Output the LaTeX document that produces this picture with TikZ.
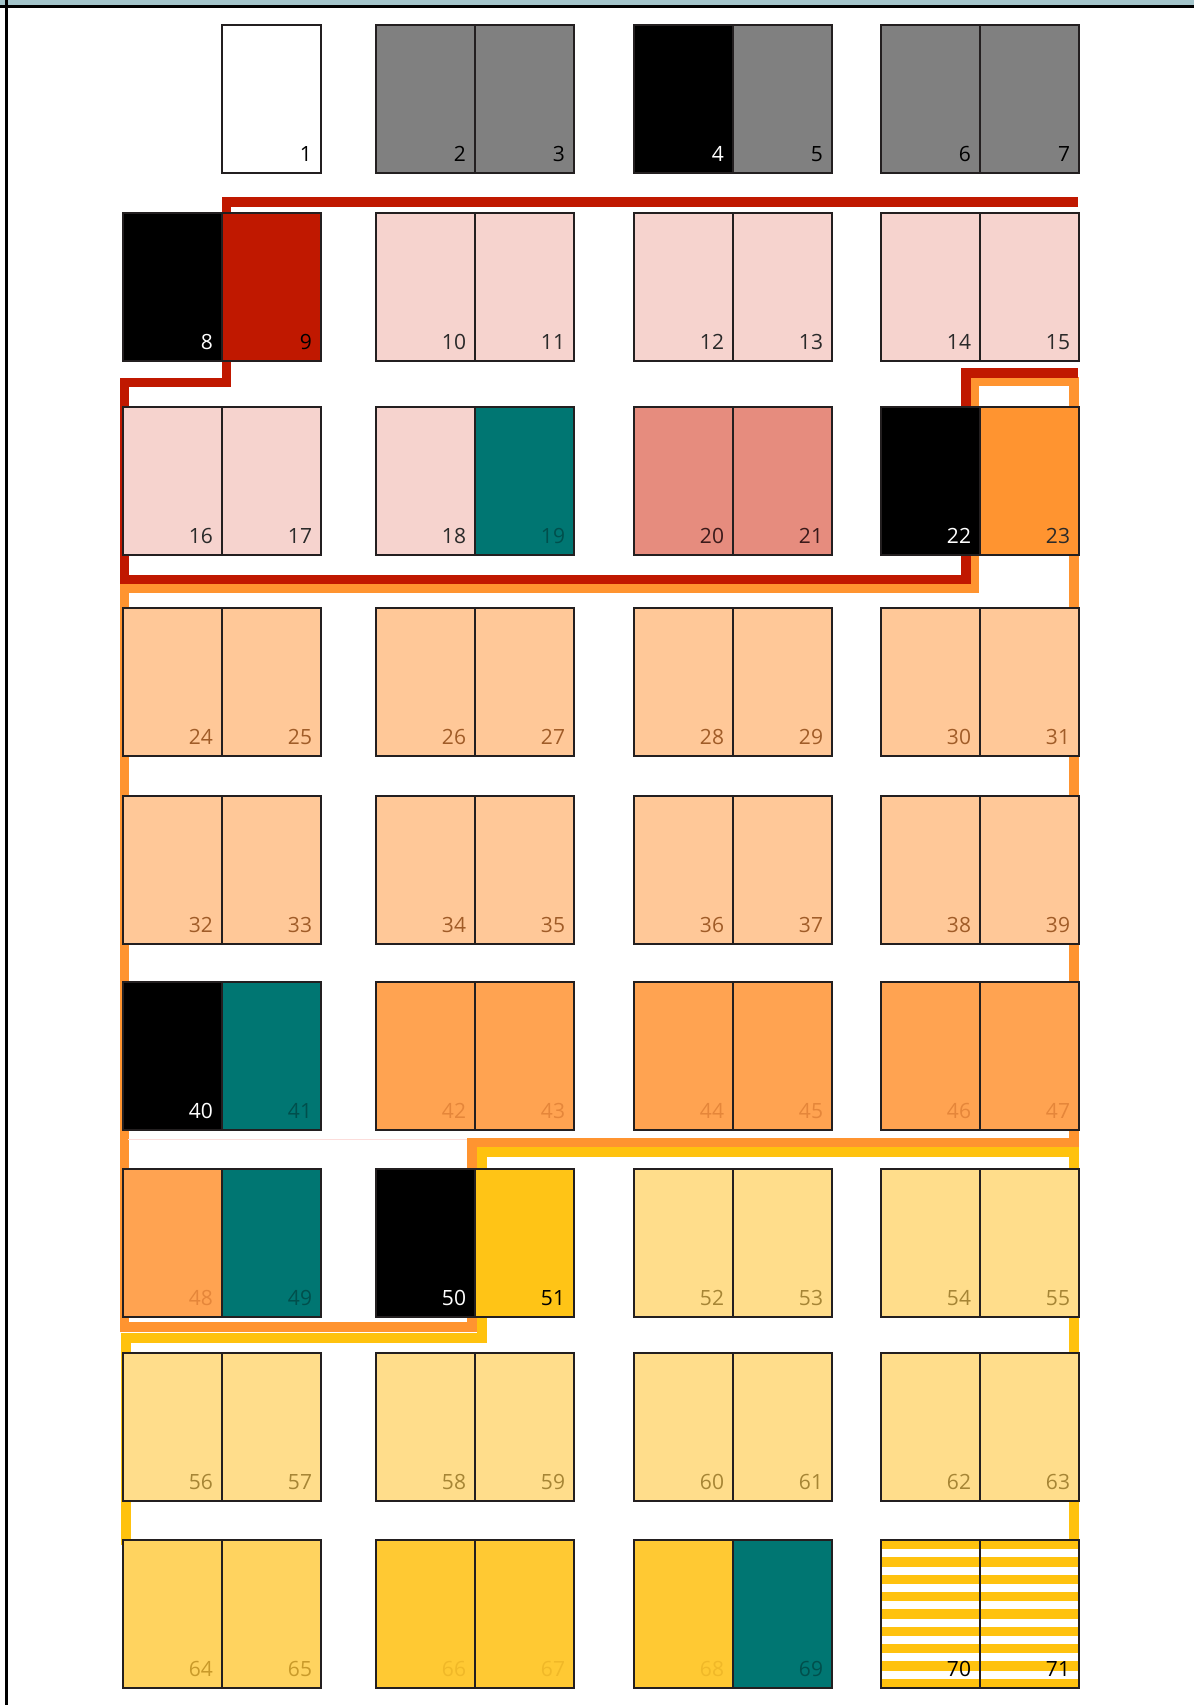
\documentclass[tikz,border=0pt]{standalone}
\usepackage{fontspec}
\setmainfont{Open Sans}
\definecolor{band}{HTML}{A3C4CA}
\definecolor{pgline}{HTML}{231F20}
\definecolor{gry}{HTML}{808080}
\definecolor{redp}{HTML}{C01800}
\definecolor{pinkp}{HTML}{F6D3CE}
\definecolor{tealp}{HTML}{007672}
\definecolor{tealtxt}{HTML}{004F4C}
\definecolor{salm}{HTML}{E68C7E}
\definecolor{salmtxt}{HTML}{3A1A1A}
\definecolor{orgA}{HTML}{FF9430}
\definecolor{peach}{HTML}{FFC898}
\definecolor{peachtxt}{HTML}{A05C28}
\definecolor{orgB}{HTML}{FFA351}
\definecolor{orgBtxt}{HTML}{E5863A}
\definecolor{yelA}{HTML}{FFC416}
\definecolor{lyel}{HTML}{FFDD8B}
\definecolor{lyeltxt}{HTML}{A68535}
\definecolor{yelB}{HTML}{FFD35F}
\definecolor{yelBtxt}{HTML}{C99A2A}
\definecolor{yelC}{HTML}{FFC933}
\definecolor{yelCtxt}{HTML}{F0B828}
\definecolor{stripeY}{HTML}{FFC20E}
\definecolor{darktxt}{HTML}{2A2A2A}
\definecolor{redline}{HTML}{C01800}
\definecolor{orline}{HTML}{FF9430}
\definecolor{yline}{HTML}{FFC20E}
\tikzset{
  pagebox/.style={draw=pgline, line width=0.8pt, minimum width=49.5pt, minimum height=74pt, inner sep=0pt, outer sep=0pt, anchor=north west},
  numlbl/.style={font=\fontsize{10.5}{12}\selectfont, inner sep=0pt, anchor=base east},
  edgeline/.style={line width=4.6pt, line join=miter, line cap=butt}
}
\newcommand\mypg[5]{%
  \node[pagebox, fill=#4] (p#1) at (#2,#3) {};
  \node[numlbl, text=#5] (l#1) at ([xshift=-4.3pt,yshift=5.6pt]p#1.south east) {#1};
}
\begin{document}
\begin{tikzpicture}[x=0.5pt,y=-0.5pt]
\useasboundingbox (0,0) rectangle (1194,1705);
\fill[white] (0,0) rectangle (1194,1705);
% frame
\fill[band] (0,0) rectangle (1194,5);
\fill[black] (0,5) rectangle (1194,7.7);
\fill[black] (5,0) rectangle (7.7,1705);
% section outlines
\draw[edgeline, orline] (1074,381.5) -- (974.5,381.5) -- (974.5,588.5) -- (124.5,588.5) -- (124.5,1327) -- (472,1327) -- (472,1142.5) -- (1074,1142.5) -- cycle;
\draw[edgeline, redline] (1078,202) -- (226.5,202) -- (226.5,382.5) -- (124.5,382.5) -- (124.5,579.5) -- (966,579.5) -- (966,373) -- (1078,373);
\draw[edgeline, yline, line width=5pt] (126,1545) -- (126,1337.5) -- (482,1337.5) -- (482,1152) -- (1074,1152) -- (1074,1545);
\draw[pinkp!80!red!40, line width=0.5pt] (128,1139) -- (467,1139);
% row 1
\mypg{1}{222}{25}{white}{black}
\mypg{2}{376}{25}{gry}{black}
\mypg{3}{475}{25}{gry}{black}
\mypg{4}{634}{25}{black}{white}
\mypg{5}{733}{25}{gry}{black}
\mypg{6}{881}{25}{gry}{black}
\mypg{7}{980}{25}{gry}{black}
% row 2
\mypg{8}{123}{213}{black}{white}
\mypg{9}{222}{213}{redp}{black}
\mypg{10}{376}{213}{pinkp}{darktxt}
\mypg{11}{475}{213}{pinkp}{darktxt}
\mypg{12}{634}{213}{pinkp}{darktxt}
\mypg{13}{733}{213}{pinkp}{darktxt}
\mypg{14}{881}{213}{pinkp}{darktxt}
\mypg{15}{980}{213}{pinkp}{darktxt}
% row 3
\mypg{16}{123}{407}{pinkp}{darktxt}
\mypg{17}{222}{407}{pinkp}{darktxt}
\mypg{18}{376}{407}{pinkp}{darktxt}
\mypg{19}{475}{407}{tealp}{tealtxt}
\mypg{20}{634}{407}{salm}{salmtxt}
\mypg{21}{733}{407}{salm}{salmtxt}
\mypg{22}{881}{407}{black}{white}
\mypg{23}{980}{407}{orgA}{darktxt}
% row 4
\mypg{24}{123}{608}{peach}{peachtxt}
\mypg{25}{222}{608}{peach}{peachtxt}
\mypg{26}{376}{608}{peach}{peachtxt}
\mypg{27}{475}{608}{peach}{peachtxt}
\mypg{28}{634}{608}{peach}{peachtxt}
\mypg{29}{733}{608}{peach}{peachtxt}
\mypg{30}{881}{608}{peach}{peachtxt}
\mypg{31}{980}{608}{peach}{peachtxt}
% row 5
\mypg{32}{123}{796}{peach}{peachtxt}
\mypg{33}{222}{796}{peach}{peachtxt}
\mypg{34}{376}{796}{peach}{peachtxt}
\mypg{35}{475}{796}{peach}{peachtxt}
\mypg{36}{634}{796}{peach}{peachtxt}
\mypg{37}{733}{796}{peach}{peachtxt}
\mypg{38}{881}{796}{peach}{peachtxt}
\mypg{39}{980}{796}{peach}{peachtxt}
% row 6
\mypg{40}{123}{982}{black}{white}
\mypg{41}{222}{982}{tealp}{tealtxt}
\mypg{42}{376}{982}{orgB}{orgBtxt}
\mypg{43}{475}{982}{orgB}{orgBtxt}
\mypg{44}{634}{982}{orgB}{orgBtxt}
\mypg{45}{733}{982}{orgB}{orgBtxt}
\mypg{46}{881}{982}{orgB}{orgBtxt}
\mypg{47}{980}{982}{orgB}{orgBtxt}
% row 7
\mypg{48}{123}{1169}{orgB}{orgBtxt}
\mypg{49}{222}{1169}{tealp}{tealtxt}
\mypg{50}{376}{1169}{black}{white}
\mypg{51}{475}{1169}{yelA}{black}
\mypg{52}{634}{1169}{lyel}{lyeltxt}
\mypg{53}{733}{1169}{lyel}{lyeltxt}
\mypg{54}{881}{1169}{lyel}{lyeltxt}
\mypg{55}{980}{1169}{lyel}{lyeltxt}
% row 8
\mypg{56}{123}{1353}{lyel}{lyeltxt}
\mypg{57}{222}{1353}{lyel}{lyeltxt}
\mypg{58}{376}{1353}{lyel}{lyeltxt}
\mypg{59}{475}{1353}{lyel}{lyeltxt}
\mypg{60}{634}{1353}{lyel}{lyeltxt}
\mypg{61}{733}{1353}{lyel}{lyeltxt}
\mypg{62}{881}{1353}{lyel}{lyeltxt}
\mypg{63}{980}{1353}{lyel}{lyeltxt}
% row 9
\mypg{64}{123}{1540}{yelB}{yelBtxt}
\mypg{65}{222}{1540}{yelB}{yelBtxt}
\mypg{66}{376}{1540}{yelC}{yelCtxt}
\mypg{67}{475}{1540}{yelC}{yelCtxt}
\mypg{68}{634}{1540}{yelC}{yelCtxt}
\mypg{69}{733}{1540}{tealp}{tealtxt}
\foreach \k in {0,...,8} {
  \fill[stripeY] (881,{1540+\k*17.35}) rectangle (1079,{1540+\k*17.35+9.3});
}
\mypg{70}{881}{1540}{none}{black}
\mypg{71}{980}{1540}{none}{black}
\end{tikzpicture}
\end{document}
